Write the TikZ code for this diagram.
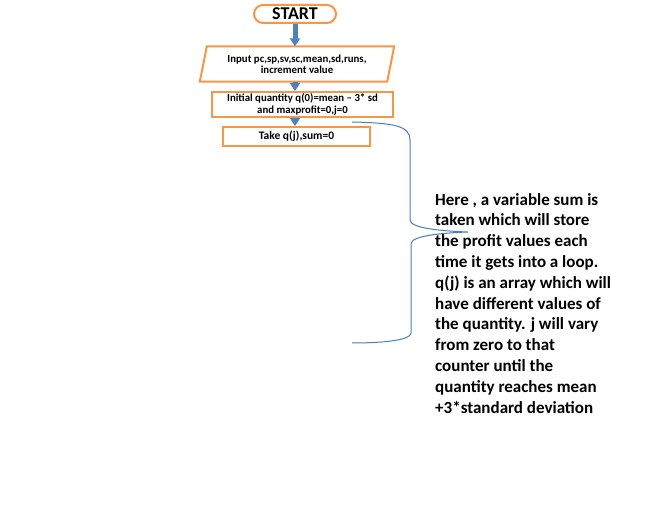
\documentclass[tikz,border=0pt]{standalone}
\usepackage{fontspec}
\setmainfont{Carlito}
\usetikzlibrary{arrows.meta,calc}
\definecolor{boxorange}{HTML}{F79646}
\definecolor{arrowblue}{HTML}{4F81BD}
\definecolor{bracecol}{HTML}{4A7EBB}
\begin{document}
\begin{tikzpicture}[x=1pt,y=-1pt,
  boxstyle/.style={draw=boxorange, line width=2pt, fill=white, inner sep=0pt,
    font=\bfseries\fontsize{10.8}{11.8}\selectfont, align=center},
  plaintext/.style={inner sep=0pt, font=\bfseries\fontsize{10.8}{11.2}\selectfont, align=center},
  flowarrow/.style={draw=arrowblue, line width=5pt, -{Triangle[width=10pt,length=8pt]}},
  bracestyle/.style={draw=bracecol, line width=1pt},
  notestyle/.style={anchor=north west, inner sep=0pt, align=left,
    font=\bfseries\fontsize{17}{20.8}\selectfont}]
\useasboundingbox (0,0) rectangle (649,518);
\fill[white] (0,0) rectangle (649,518);
% START terminal
\node[boxstyle, rounded corners=9pt, minimum width=82pt, minimum height=18pt,
  font=\bfseries\fontsize{18}{20}\selectfont] (start) at (295,14) {START};
% input parallelogram
\node[plaintext, minimum width=187pt, minimum height=35pt] (inp) at (297,64)
  {Input pc,sp,sv,sc,mean,sd,runs,\\increment value};
\draw[boxorange, line width=2pt]
  ($(inp.north west)+(3.5,0)$) -- ($(inp.north east)+(3.5,0)$) --
  ($(inp.south east)+(-3.5,0)$) -- ($(inp.south west)+(-3.5,0)$) -- cycle;
% process boxes
\node[boxstyle, minimum width=181pt, minimum height=25pt] (init) at (302.5,104.5)
  {Initial quantity q(0)=mean -- 3* sd\\and maxprofit=0,j=0};
\node[boxstyle, minimum width=147pt, minimum height=19pt,
  font=\bfseries\fontsize{11.5}{12}\selectfont] (take) at (296.5,136.5)
  {Take q(j),sum=0};
% arrows
\draw[flowarrow] (start.south) -- (start.south |- inp.north);
\draw[flowarrow] (start.south |- inp.south) -- (start.south |- init.north);
\draw[flowarrow] (start.south |- init.south) -- (start.south |- take.north);
% brace
\coordinate (bt) at (352,122);
\coordinate (tip) at (468,232);
\coordinate (bb) at (352,343);
\draw[bracestyle] (bt) .. controls (395,123) and (410,126) .. (410,140) -- (410,220)
  .. controls (410,228) and (440,231) .. (tip)
  .. controls (440,233) and (411,236) .. (411,244) -- (411,333)
  .. controls (411,340) and (385,343) .. (bb);
% note text
\node[notestyle] (note) at (435,193)
  {Here , a variable sum is\\
   taken which will store\\
   the profit values each\\
   time it gets into a loop.\\
   q(j) is an array which will\\
   have different values of\\
   the quantity. j will vary\\
   from zero to that\\
   counter until the\\
   quantity reaches mean\\
   +3*standard deviation};
\end{tikzpicture}
\end{document}
